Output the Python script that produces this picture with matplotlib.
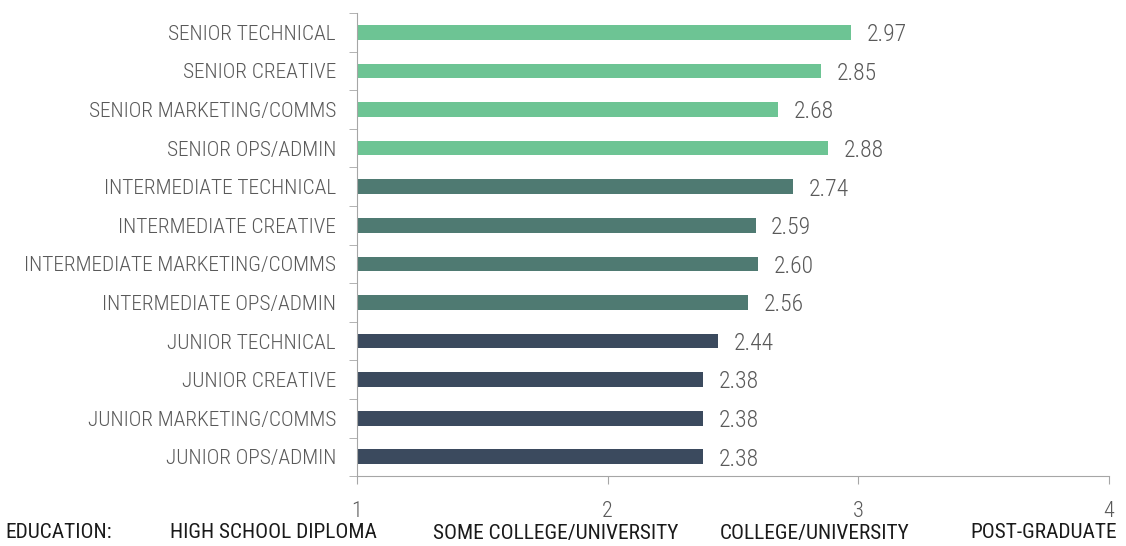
import matplotlib.pyplot as plt

# job levels, top to bottom
roles = ['SENIOR TECHNICAL', 'SENIOR CREATIVE', 'SENIOR MARKETING/COMMS', 'SENIOR OPS/ADMIN',
         'INTERMEDIATE TECHNICAL', 'INTERMEDIATE CREATIVE', 'INTERMEDIATE MARKETING/COMMS',
         'INTERMEDIATE OPS/ADMIN', 'JUNIOR TECHNICAL', 'JUNIOR CREATIVE',
         'JUNIOR MARKETING/COMMS', 'JUNIOR OPS/ADMIN']
scores = [2.97, 2.85, 2.68, 2.88, 2.74, 2.59, 2.60, 2.56, 2.44, 2.38, 2.38, 2.38]
levels = ['senior'] * 4 + ['intermediate'] * 4 + ['junior'] * 4
edu_labels = ['HIGH SCHOOL DIPLOMA', 'SOME COLLEGE/UNIVERSITY', 'COLLEGE/UNIVERSITY', 'POST-GRADUATE']

level_colors = {'senior': '#6dc494', 'intermediate': '#4f7a72', 'junior': '#3b4a5e'}

plt.rcParams['font.family'] = ['Roboto Condensed', 'DejaVu Sans']
plt.rcParams['font.weight'] = 'light'

fig = plt.figure(figsize=(11.26, 5.46), dpi=100)
ax = fig.add_axes([0.317, 0.128, 0.668, 0.848])

ypos = list(range(len(roles)))
ax.barh(ypos, [s - 1 for s in scores], left=1, height=0.38,
        color=[level_colors[l] for l in levels])
for y, s in zip(ypos, scores):
    ax.text(s + 0.062, y + 0.06, f'{s:.2f}', va='center', ha='left', fontsize=17, color='#595959')

ax.set_xlim(1, 4)
ax.set_ylim(len(roles) - 0.5, -0.5)
ax.set_xticks([1, 2, 3, 4])
ax.tick_params(axis='x', length=6, color='#a6a6a6', labelsize=16, labelcolor='#595959', pad=12)

ax.set_yticks(ypos)
ax.set_yticklabels(roles, fontsize=15.4, color='#595959')
ax.tick_params(axis='y', length=0, pad=15)
ax.set_yticks([y - 0.5 for y in range(len(roles) + 1)], minor=True)
ax.tick_params(axis='y', which='minor', length=6, color='#a6a6a6')

for side in ['top', 'right']:
    ax.spines[side].set_visible(False)
for side in ['left', 'bottom']:
    ax.spines[side].set_color('#a6a6a6')

# education scale under the axis
fig.text(5 / 1126, 1 - 533 / 546, 'EDUCATION:', fontsize=15.4, weight='normal',
         color='#1a1a1a', va='center', ha='left')
for x, lab in zip([170, 433, 720, 970], edu_labels):
    fig.text(x / 1126, 1 - 533 / 546, lab, fontsize=15.4, weight='normal',
             color='#1a1a1a', va='center', ha='left')

fig.savefig('out.png', dpi=100)
